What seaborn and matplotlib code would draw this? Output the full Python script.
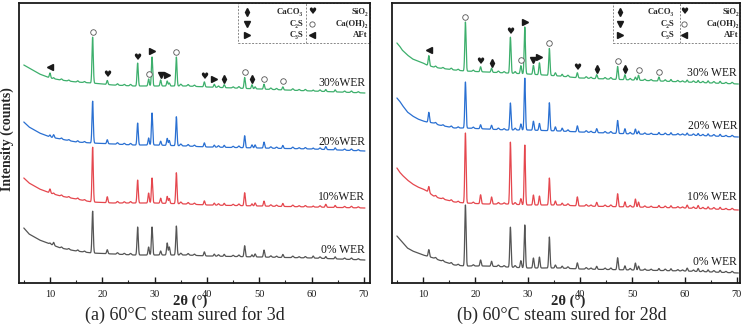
import numpy as np
import pandas as pd
import matplotlib
matplotlib.use("Agg")
import matplotlib.pyplot as plt
from matplotlib.patches import Rectangle
import seaborn as sns

# ---------------- data ----------------
samples = ["30%WER", "20%WER", "10%WER", "0%WER"]
colors = ["#3daf6c", "#2a70d2", "#e5474e", "#555555"]
labels_a = ["30%WER", "20%WER", "10%WER", "0% WER"]
labels_b = ["30% WER", "20% WER", "10% WER", "0% WER"]

# panel (a): 3d  -- stacked baselines (offset intensity) and peaks
base_x_a = [5, 6, 8, 10, 12, 15, 18, 22, 26, 30, 36, 40, 50, 60, 70.2]
base_a_30 = [218, 215, 209, 205, 203, 201, 200, 198, 197, 197, 197, 196, 194, 192, 190]
base_a_20 = [161, 156, 150, 146, 144, 141, 140, 139, 138, 138, 137, 136, 135, 134, 132]
base_a_10 = [105, 100, 94, 90, 87, 84, 81, 80, 80, 80, 79, 78, 77, 76, 75]
base_a_0 = [55, 49, 43, 39, 35, 32, 30, 29, 28, 28, 28, 27, 26, 25, 23]

peaks_a = [10.0, 10.7, 18.15, 20.95, 26.75, 28.85, 29.5, 31.15, 32.4, 32.8, 34.15,
           39.5, 41.4, 43.3, 47.2, 48.6, 49.2, 50.9, 54.5, 60.3, 62.7, 64.5]
height_a_30 = [5, 1, 46, 4, 23, 7, 29, 6, 5, 3, 29, 5, 3, 3, 11, 4, 2, 5, 3, 1, 2, 2]
height_a_20 = [2, 3, 42, 4, 22, 7, 32, 4, 7, 5, 29, 4, 2, 2, 12, 3, 3, 6, 3, 1, 3, 2]
height_a_10 = [4, 1, 55, 6, 23, 10, 25, 5, 7, 5, 31, 4, 2, 2, 13, 2, 3, 5, 3, 1, 3, 2]
height_a_0 = [1, 3, 42, 4, 28, 8, 28, 4, 12, 8, 29, 4, 2, 2, 11, 2, 3, 7, 3, 2, 2, 2]
weak_a = [12.2, 13.6, 15.3, 16.6, 22.9, 24.2, 25.4, 35.0, 36.4, 37.6, 42.2, 45.0,
          46.1, 52.2, 53.3, 56.4, 57.6, 58.8, 61.6, 66.3, 67.6, 68.9]
weak_a_h = [1.2, 1.0, 1.3, 1.0, 1.5, 1.2, 1.4, 1.8, 1.6, 1.3, 1.5, 1.2,
            1.6, 1.4, 1.2, 1.5, 1.1, 1.3, 1.4, 1.2, 1.5, 1.1]

marks_a_pos = [10.0, 18.15, 20.95, 26.75, 28.85, 29.5, 31.15, 32.4, 34.15, 39.5,
               41.4, 43.3, 47.2, 48.6, 50.9, 54.5]
marks_a_phase = ["AFt", "CH", "SiO2", "SiO2", "CH", "C3S", "C2S", "C3S", "CH", "SiO2",
                 "C3S", "CaCO3", "CH", "CaCO3", "CH", "CH"]

# panel (b): 28d
base_x_b = [5, 5.5, 6, 7, 8, 9, 10, 10.7, 12, 13, 16, 18, 22, 26, 30, 36, 40, 50, 60, 70.3]
base_b_30 = [240, 237, 233, 228, 224, 222, 220, 218, 216, 215, 213, 212, 211, 210, 209, 207, 205, 203, 201, 199]
base_b_20 = [185, 182, 178, 171, 167, 164, 162, 161, 160, 158, 155, 155, 154, 153, 153, 152, 151, 149, 148, 146]
base_b_10 = [115, 111, 108, 103, 99, 96, 94, 92, 87, 85, 81, 80, 79, 79, 78, 78, 77, 76, 75, 73]
base_b_0 = [47, 44, 41, 35, 32, 30, 28, 27, 25, 23, 18, 17, 17, 16, 15, 15, 14, 13, 12, 10]

peaks_b = [11.1, 18.1, 21.0, 23.1, 26.7, 28.7, 29.45, 31.1, 32.25, 34.15, 35.3, 36.6,
           39.5, 43.2, 47.2, 48.6, 50.6, 51.2, 55.1, 57.4, 60.5, 62.6, 64.5, 66.8]
height_b_30 = [10, 49, 5, 4, 36, 8, 47, 9, 12, 27, 3, 2, 5, 4, 13, 5, 3, 5, 4, 2, 2, 2, 2, 2]
height_b_20 = [10, 46, 4, 4, 27, 6, 52, 9, 7, 28, 4, 3, 6, 4, 13, 5, 5, 3, 2, 2, 2, 2, 2, 2]
height_b_10 = [6, 70, 9, 7, 62, 6, 60, 10, 9, 27, 4, 2, 9, 4, 13, 5, 8, 5, 2, 2, 3, 3, 2, 2]
height_b_0 = [7, 61, 6, 5, 40, 7, 43, 10, 11, 31, 3, 2, 6, 3, 12, 4, 7, 4, 2, 2, 3, 3, 2, 2]
weak_b = [12.4, 13.8, 15.4, 16.7, 19.6, 24.4, 25.5, 27.6, 37.7, 41.2, 42.1, 44.8,
          45.9, 49.6, 52.4, 53.6, 56.3, 58.7, 59.6, 61.7, 63.5, 65.6, 67.9, 69.1]
weak_b_h = [1.3, 1.1, 1.4, 1.2, 1.3, 1.5, 1.2, 1.8, 1.6, 1.5, 1.2, 1.4,
            1.6, 1.5, 1.3, 1.2, 1.5, 1.3, 1.1, 1.4, 1.3, 1.5, 1.2, 1.4]

marks_b_pos = [11.1, 18.1, 21.0, 23.1, 26.7, 28.7, 29.45, 31.1, 32.25, 34.15, 39.5,
               43.2, 47.2, 48.6, 51.2, 55.1]
marks_b_phase = ["AFt", "CH", "SiO2", "CaCO3", "SiO2", "CH", "C3S", "C2S", "C3S", "CH",
                 "SiO2", "CaCO3", "CH", "CaCO3", "CH", "CH"]

legend_left = [("CaCO3", "CaCO₃"), ("C2S", "C₂S"), ("C3S", "C₃S")]
legend_right = [("SiO2", "SiO₂"), ("CH", "Ca(OH)₂"), ("AFt", "AFt")]

titles = ["(a) 60°C steam sured for 3d", "(b) 60°C steam sured for 28d"]

# ---------------- style ----------------
sns.set_theme(style="white")
plt.rcParams["font.family"] = ["Liberation Serif", "DejaVu Serif"]

W, H = 745, 332
fig = plt.figure(figsize=(W / 100, H / 100), dpi=100)

def frac(px0, py0, px1, py1):
    return [px0 / W, 1 - py1 / H, (px1 - px0) / W, (py1 - py0) / H]

ax_a = fig.add_axes(frac(19, 3, 370, 283))
ax_b = fig.add_axes(frac(392, 3, 740, 283))

MARK = {"CaCO3": "d", "C2S": "v", "C3S": ">", "CH": "o", "AFt": "<", "SiO2": None}


def build(base_x, bases, peaks, heights, weak, weak_h):
    x = np.arange(base_x[0], base_x[-1], 0.02)
    rows = []
    for name, b, h in zip(samples, bases, heights):
        y = np.interp(x, base_x, b)
        for p, hh in zip(peaks, h):
            y = y + hh * np.exp(-0.5 * ((x - p) / 0.12) ** 2)
        for p, hh in zip(weak, weak_h):
            y = y + hh * np.exp(-0.5 * ((x - p) / 0.15) ** 2)
        rows.append(pd.DataFrame({"two_theta": x, "intensity": y, "sample": name}))
    return pd.concat(rows, ignore_index=True)


def draw_marker(ax, x, y, phase, transform=None, size=4.0):
    kw = {} if transform is None else {"transform": transform}
    if phase == "SiO2":
        ax.text(x, y, "♥", family="DejaVu Sans", fontsize=6.5, ha="center",
                va="center", color="k", **kw)
    elif phase == "CH":
        ax.plot([x], [y], marker="o", ms=size, mfc="white", mec="#555555",
                mew=0.6, ls="none", clip_on=False, **kw)
    else:
        ax.plot([x], [y], marker=MARK[phase], ms=size, color="k", ls="none",
                clip_on=False, **kw)


def panel(ax, df, xlim, lab, lab_y, lab_x, mpos, mph, leg):
    sns.lineplot(data=df, x="two_theta", y="intensity", hue="sample",
                 palette=dict(zip(samples, colors)), hue_order=samples,
                 estimator=None, sort=False, linewidth=0.9, legend=False, ax=ax)
    ax.set_xlim(*xlim)
    ax.set_ylim(0, 280)
    ax.set_yticks([])
    ax.set_xlabel("")
    ax.set_ylabel("")
    ax.set_xticks(range(10, 71, 10))
    ax.set_xticks(range(5, 70, 10), minor=True)
    ax.tick_params(axis="x", which="major", direction="in", length=4, width=1,
                   labelsize=7.5, pad=5, bottom=True, colors="k")
    ax.tick_params(axis="x", which="minor", direction="in", length=2, width=0.8,
                   bottom=True)
    for s in ax.spines.values():
        s.set_color("k")
        s.set_linewidth(1.3)
    # sample labels
    for t, yy in zip(lab, lab_y):
        ax.text(lab_x, yy, t, ha="right", va="center", fontsize=8.4, color="k")
    # phase markers on top curve
    top = df[df["sample"] == samples[0]]
    xv = top["two_theta"].to_numpy()
    yv = top["intensity"].to_numpy()
    for p, ph in zip(mpos, mph):
        m = np.abs(xv - p) < 0.3
        draw_marker(ax, p, yv[m].max() + 5.5, ph)
    # legend box
    x0, xs, mx1, lx1, mx2, lx2 = leg
    y0 = 1 - 40 / 280
    ax.add_patch(Rectangle((x0, y0), 1.0 - x0, 1 - y0, transform=ax.transAxes,
                           fill=False, ec="#888888", lw=0.7, ls=(0, (2, 1.5)),
                           clip_on=False))
    ax.plot([xs, xs], [y0, 1], transform=ax.transAxes, color="#888888", lw=0.7,
            ls=(0, (2, 1.5)))
    rows_y = [0.968, 0.925, 0.886]
    for (ph, txt), ry in zip(legend_left, rows_y):
        draw_marker(ax, mx1, ry, ph, transform=ax.transAxes, size=3.8)
        ax.text(lx1, ry, txt, transform=ax.transAxes, ha="right", va="center",
                fontsize=6.3, fontweight="bold")
    for (ph, txt), ry in zip(legend_right, rows_y):
        draw_marker(ax, mx2, ry, ph, transform=ax.transAxes, size=3.8)
        ax.text(lx2, ry, txt, transform=ax.transAxes, ha="right", va="center",
                fontsize=6.3, fontweight="bold")


df_a = build(base_x_a, [base_a_30, base_a_20, base_a_10, base_a_0], peaks_a,
             [height_a_30, height_a_20, height_a_10, height_a_0], weak_a, weak_a_h)
df_b = build(base_x_b, [base_b_30, base_b_20, base_b_10, base_b_0], peaks_b,
             [height_b_30, height_b_20, height_b_10, height_b_0], weak_b, weak_b_h)

panel(ax_a, df_a, (4.08, 71.15), labels_a, [200, 141, 86, 33], 70.2,
      marks_a_pos, marks_a_phase, (0.624, 0.818, 0.650, 0.809, 0.835, 0.994))
panel(ax_b, df_b, (4.06, 70.6), labels_b, [210, 157, 86, 21], 70.06,
      marks_b_pos, marks_b_phase, (0.635, 0.828, 0.655, 0.810, 0.839, 0.997))

fig.text(7 / W, 1 - 139 / H, "Intensity (counts)", rotation=90, ha="center",
         va="center", fontsize=10, fontweight="bold")
for cx in [190, 568]:
    fig.text(cx / W, 1 - 301.5 / H, "2θ (°)", ha="center", va="center",
             fontsize=10.5, fontweight="bold")
for cx, t in zip([185, 562], titles):
    fig.text(cx / W, 1 - 315.5 / H, t, ha="center", va="center", fontsize=13)

fig.savefig("out.png", dpi=100)
